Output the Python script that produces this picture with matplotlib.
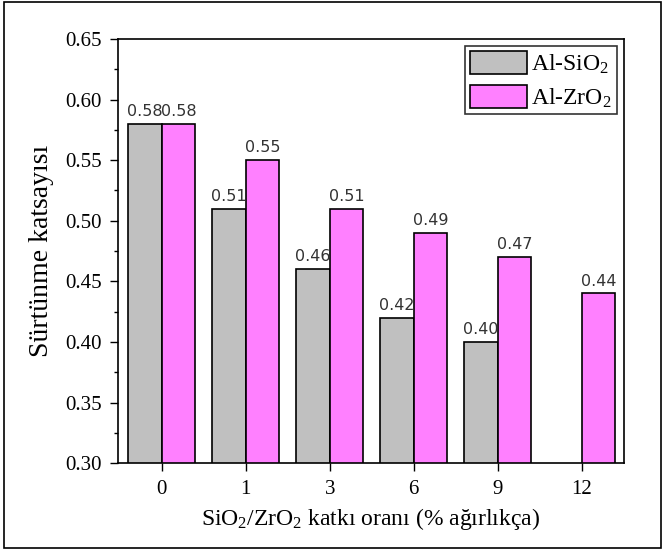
import numpy as np
import matplotlib.pyplot as plt
from matplotlib.patches import Rectangle
from matplotlib.ticker import MultipleLocator

plt.rcParams['font.family'] = 'Liberation Serif'
plt.rcParams['mathtext.fontset'] = 'custom'
plt.rcParams['mathtext.rm'] = 'Liberation Serif'
plt.rcParams['mathtext.it'] = 'Liberation Serif'

# katki orani (% agirlikca) ve surtunme katsayisi
categories = ['0', '1', '3', '6', '9', '12']
sio2 = [0.58, 0.51, 0.46, 0.42, 0.40, np.nan]
zro2 = [0.58, 0.55, 0.51, 0.49, 0.47, 0.44]

x = np.arange(len(categories))
w = 0.4

fig = plt.figure(figsize=(6.67, 5.5), dpi=100)
ax = fig.add_axes([0.177, 0.158, 0.758, 0.771])

b1 = ax.bar(x - w/2, sio2, w, color='#c0c0c0', edgecolor='black', lw=1.2,
            label=r'Al-SiO$_2$')
b2 = ax.bar(x + w/2, zro2, w, color='#ff80ff', edgecolor='black', lw=1.2,
            label=r'Al-ZrO$_2$')

for bars, vals in ((b1, sio2), (b2, zro2)):
    for b, v in zip(bars, vals):
        if np.isnan(v):
            continue
        ax.text(b.get_x() + b.get_width()/2, v + 0.004, '%.2f' % v,
                ha='center', va='bottom', fontsize=11.5, color='#333333',
                family='DejaVu Sans')

ax.set_xlim(-0.52, 5.5)
ax.set_ylim(0.30, 0.65)
ax.set_xticks(x)
ax.set_xticklabels(categories)
ax.yaxis.set_major_locator(MultipleLocator(0.05))
ax.yaxis.set_minor_locator(MultipleLocator(0.025))
ax.yaxis.set_major_formatter(plt.FormatStrFormatter('%.2f'))
ax.tick_params(axis='both', which='major', direction='out', length=6,
               width=1, labelsize=15, pad=6)
ax.tick_params(axis='y', which='minor', direction='out', length=3, width=1)
for s in ax.spines.values():
    s.set_linewidth(1.2)

ax.set_xlabel(r'SiO$_2$/ZrO$_2$ katkı oranı (% ağırlıkça)', fontsize=17,
              labelpad=5)
ax.set_ylabel('Sürtünme katsayısı', fontsize=20, labelpad=8)

leg = ax.legend(loc='upper right', fontsize=17, frameon=True, fancybox=False,
                edgecolor='black', handlelength=2.4, handleheight=1.1,
                borderaxespad=0.3, handletextpad=0.2, labelspacing=0.4,
                borderpad=0.2)
leg.get_frame().set_linewidth(1.2)

# cerceve
fig.patches.append(Rectangle((4/667, 2/550), 657/667, 546/550,
                             transform=fig.transFigure, fill=False,
                             edgecolor='black', lw=1.2))

fig.savefig('out.png', dpi=100)
